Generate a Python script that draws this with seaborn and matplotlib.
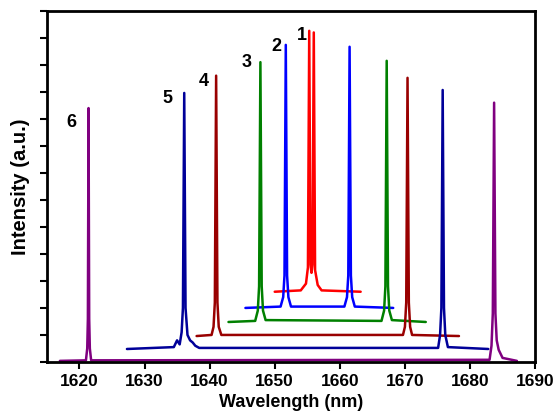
import matplotlib
matplotlib.use("Agg")
import matplotlib.pyplot as plt
import seaborn as sns

# spectra: wavelength (nm) and intensity (a.u., offset per trace)
wl_1 = [1650.0, 1654.0, 1654.8, 1655.1, 1655.3, 1655.5, 1655.65, 1655.8, 1656.0, 1656.2, 1656.6, 1657.2, 1663.2]
int_1 = [2.6, 2.65, 2.9, 3.5, 12.26, 3.6, 3.3, 3.6, 12.2, 3.4, 2.85, 2.65, 2.6]

wl_2 = [1645.5, 1650.9, 1651.3, 1651.5, 1651.7, 1651.9, 1652.1, 1652.5,
        1660.7, 1661.1, 1661.3, 1661.5, 1661.7, 1661.9, 1662.3, 1668.2]
int_2 = [2.0, 2.05, 2.4, 3.2, 11.74, 3.2, 2.4, 2.05,
         2.05, 2.4, 3.2, 11.67, 3.2, 2.4, 2.05, 2.0]

wl_3 = [1642.9, 1647.0, 1647.4, 1647.6, 1647.8, 1648.0, 1648.2, 1648.6,
        1666.4, 1666.8, 1667.0, 1667.2, 1667.4, 1667.6, 1668.0, 1673.2]
int_3 = [1.48, 1.52, 1.9, 2.8, 11.1, 2.8, 1.9, 1.55,
         1.52, 1.9, 2.8, 11.15, 2.8, 1.9, 1.55, 1.48]

wl_4 = [1638.0, 1640.3, 1640.6, 1640.8, 1641.0, 1641.2, 1641.4, 1641.8,
        1669.7, 1670.0, 1670.2, 1670.4, 1670.6, 1670.8, 1671.1, 1678.3]
int_4 = [0.96, 1.0, 1.3, 2.2, 10.6, 2.2, 1.3, 1.0,
         1.0, 1.3, 2.2, 10.52, 2.2, 1.3, 1.0, 0.96]

wl_5 = [1627.3, 1634.5, 1635.0, 1635.4, 1635.7, 1635.9, 1636.1, 1636.3, 1636.6, 1637.0, 1637.4, 1637.8, 1638.4,
        1675.1, 1675.4, 1675.6, 1675.8, 1676.0, 1676.2, 1676.6, 1682.8]
int_5 = [0.48, 0.55, 0.8, 0.65, 1.1, 2.0, 9.96, 2.0, 1.0, 0.8, 0.72, 0.6, 0.52,
         0.52, 1.0, 2.0, 10.07, 2.0, 1.0, 0.55, 0.48]

wl_6 = [1617.0, 1621.0, 1621.2, 1621.3, 1621.4, 1621.5, 1621.6, 1621.8,
        1683.0, 1683.3, 1683.5, 1683.7, 1683.9, 1684.1, 1684.4, 1685.0, 1687.2]
int_6 = [0.04, 0.06, 0.5, 1.6, 9.4, 1.6, 0.5, 0.06,
         0.08, 0.6, 1.8, 9.6, 1.8, 0.8, 0.45, 0.15, 0.04]

trace_names = ["1", "2", "3", "4", "5", "6"]
trace_colors = ["#ff0000", "#0000ff", "#008000", "#990000", "#000099", "#800080"]
label_x = [1654.2, 1650.3, 1645.7, 1639.1, 1633.5, 1618.8]
label_y = [12.1, 11.67, 11.1, 10.4, 9.74, 8.85]

sns.set_style("ticks", {"axes.edgecolor": "black", "text.color": "black",
                        "axes.labelcolor": "black", "xtick.color": "black",
                        "ytick.color": "black"})
plt.rcParams["font.family"] = ["Liberation Sans", "DejaVu Sans"]
plt.rcParams["font.weight"] = "bold"

fig = plt.figure(figsize=(5.58, 4.17), dpi=100)
ax = fig.add_axes([0.084, 0.132, 0.875, 0.842])

traces = [(wl_1, int_1), (wl_2, int_2), (wl_3, int_3), (wl_4, int_4), (wl_5, int_5), (wl_6, int_6)]
for (wl, inten), c in zip(traces, trace_colors):
    sns.lineplot(x=wl, y=inten, sort=False, estimator=None, color=c, lw=1.8, ax=ax)

for name, lx, ly in zip(trace_names, label_x, label_y):
    ax.text(lx, ly, name, fontsize=13, fontweight="bold", ha="center", va="center", color="black")

ax.set_xlim(1615, 1690)
ax.set_ylim(0, 13)
ax.set_xticks(range(1620, 1691, 10))
ax.set_yticks(range(0, 14))
ax.set_yticklabels([])
ax.tick_params(direction="out", length=5, width=1.5, labelsize=12.5, pad=4, colors="black")
for lab in ax.get_xticklabels():
    lab.set_fontweight("bold")
for sp in ax.spines.values():
    sp.set_linewidth(2)
    sp.set_color("black")
    sp.set_visible(True)

ax.set_xlabel("Wavelength (nm)", fontsize=13, fontweight="bold", labelpad=3, color="black")
ax.set_ylabel("Intensity (a.u.)", fontsize=14.5, fontweight="bold", labelpad=3, color="black")

fig.savefig("out.png", dpi=100)
plt.close(fig)
